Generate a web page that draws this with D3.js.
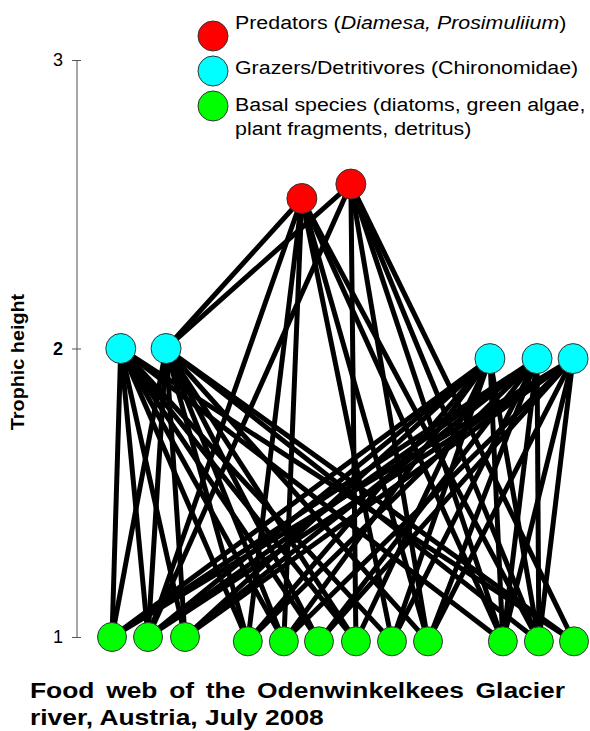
<!DOCTYPE html>
<html><head><meta charset="utf-8">
<script src="https://cdn.jsdelivr.net/npm/d3@7/dist/d3.min.js"></script>
<style>body{margin:0;background:#fff;}svg{display:block;}</style>
</head><body>
<svg id="chart" width="590" height="731"></svg>
<script>
// ---- data ----
const predatorIds = ["P1","P2"];
const predatorPos = [4.11, 5.17];
const predatorHeight = [2.52, 2.57];
const grazerIds = ["G1","G2","G3","G4","G5"];
const grazerPos = [0.19, 1.17, 8.18, 9.2, 9.98];
const grazerHeight = [2.0, 2.0, 1.965, 1.965, 1.965];
const basalIds = ["B1","B2","B3","B4","B5","B6","B7","B8","B9","B10","B11","B12"];
const basalPos = [0, 0.78, 1.58, 2.94, 3.72, 4.48, 5.28, 6.06, 6.84, 8.46, 9.24, 10];
const basalHeight = [1, 1, 1, 0.985, 0.985, 0.985, 0.985, 0.985, 0.985, 0.985, 0.985, 0.985];
const yTicks = [1, 2, 3];
const links = [
  ["P1","G2"],["P1","B2"],["P1","B4"],["P1","B5"],["P1","B8"],["P1","B9"],["P1","B10"],["P1","B11"],
  ["P2","G2"],["P2","B2"],["P2","B7"],["P2","B9"],["P2","B10"],["P2","B11"],["P2","B12"],
  ["G1","B1"],["G1","B2"],["G1","B3"],["G1","B4"],["G1","B5"],["G1","B6"],["G1","B7"],["G1","B8"],["G1","B10"],["G1","B12"],
  ["G2","B1"],["G2","B2"],["G2","B3"],["G2","B4"],["G2","B5"],["G2","B6"],["G2","B7"],["G2","B9"],["G2","B11"],["G2","B12"],
  ["G3","B1"],["G3","B2"],["G3","B3"],["G3","B4"],["G3","B5"],["G3","B7"],["G3","B8"],["G3","B10"],["G3","B11"],
  ["G4","B1"],["G4","B2"],["G4","B3"],["G4","B4"],["G4","B6"],["G4","B8"],["G4","B9"],["G4","B10"],["G4","B11"],
  ["G5","B1"],["G5","B2"],["G5","B3"],["G5","B5"],["G5","B6"],["G5","B9"],["G5","B10"],["G5","B11"]
];
const legendLabels = [
  ["Predators (", "Diamesa, Prosimuliium", ")"],
  ["Grazers/Detritivores (Chironomidae)"],
  ["Basal species (diatoms, green algae,", "plant fragments, detritus)"]
];
const titleLines = ["Food web of the Odenwinkelkees Glacier", "river, Austria, July 2008"];
const yLabel = "Trophic height";

// ---- build ----
const FONT = "Liberation Sans, Arial, sans-serif";
const colors = {P:"#ff0000", G:"#00ffff", B:"#00ff00"};
const nodes = [];
predatorIds.forEach((id,i)=>nodes.push({id, type:"P", pos:predatorPos[i], h:predatorHeight[i]}));
grazerIds.forEach((id,i)=>nodes.push({id, type:"G", pos:grazerPos[i], h:grazerHeight[i]}));
basalIds.forEach((id,i)=>nodes.push({id, type:"B", pos:basalPos[i], h:basalHeight[i]}));
const byId = new Map(nodes.map(n=>[n.id,n]));

const svg = d3.select("#chart");
const x = d3.scaleLinear().domain([0,10]).range([112,574]);
const y = d3.scaleLinear().domain([1,3]).range([637,60]);

// axis
const axis = svg.append("g").attr("transform","translate(77,0)")
  .call(d3.axisLeft(y).tickValues(yTicks).tickFormat(d3.format("d")).tickSize(4).tickPadding(10));
axis.select(".domain").attr("stroke","#888").attr("stroke-width",1.5).attr("d","M0,"+y(3)+"V"+y(1));
axis.selectAll(".tick line").attr("stroke","#555").attr("x1",4).attr("x2",-5);
axis.selectAll(".tick text").attr("font-family",FONT)
  .attr("font-size",18).attr("fill","#000").attr("font-weight",d=>d===2?"bold":"normal");

svg.append("text").attr("transform","translate(24,362) rotate(-90) scale(1.1,1)")
  .attr("text-anchor","middle").attr("font-family",FONT)
  .attr("font-weight","bold").attr("font-size",18).text(yLabel);

// links
svg.append("g").selectAll("line").data(links).join("line")
  .attr("x1",d=>x(byId.get(d[0]).pos)).attr("y1",d=>y(byId.get(d[0]).h))
  .attr("x2",d=>x(byId.get(d[1]).pos)).attr("y2",d=>y(byId.get(d[1]).h))
  .attr("stroke","#000").attr("stroke-width",5);

// nodes
svg.append("g").selectAll("circle").data(nodes).join("circle")
  .attr("cx",d=>x(d.pos)).attr("cy",d=>y(d.h))
  .attr("r",d=>d.type==="B"?14.5:15)
  .attr("fill",d=>colors[d.type]).attr("stroke","#333").attr("stroke-width",1);

// legend
const legendTypes = ["P","G","B"];
const legendY = [36, 71, 106];
legendTypes.forEach((t,i)=>{
  svg.append("circle").attr("cx",213).attr("cy",legendY[i]).attr("r",15)
    .attr("fill",colors[t]).attr("stroke","#333").attr("stroke-width",1);
});
const lg = svg.append("g").attr("transform","translate(235,0) scale(1.125,1)")
  .attr("font-family",FONT).attr("font-size",19);
const t0 = lg.append("text").attr("x",0).attr("y",29);
t0.append("tspan").text(legendLabels[0][0]);
t0.append("tspan").attr("font-style","italic").text(legendLabels[0][1]);
t0.append("tspan").text(legendLabels[0][2]);
lg.append("text").attr("x",0).attr("y",74).text(legendLabels[1][0]);
lg.append("text").attr("x",0).attr("y",111).text(legendLabels[2][0]);
lg.append("text").attr("x",0).attr("y",135).text(legendLabels[2][1]);

// title (first line justified)
const sx = 1.2;
const tg = svg.append("g").attr("transform","translate(30,0) scale("+sx+",1)")
  .attr("font-family",FONT).attr("font-weight","bold").attr("font-size",22);
const tl1 = tg.append("text").attr("x",0).attr("y",698).text(titleLines[0]);
const w = tl1.node().getComputedTextLength();
const gaps = titleLines[0].split(" ").length-1;
tl1.attr("word-spacing",Math.max(0,((565-30)/sx - w)/gaps));
tg.append("text").attr("x",0).attr("y",725).text(titleLines[1]);
</script>
</body></html>
